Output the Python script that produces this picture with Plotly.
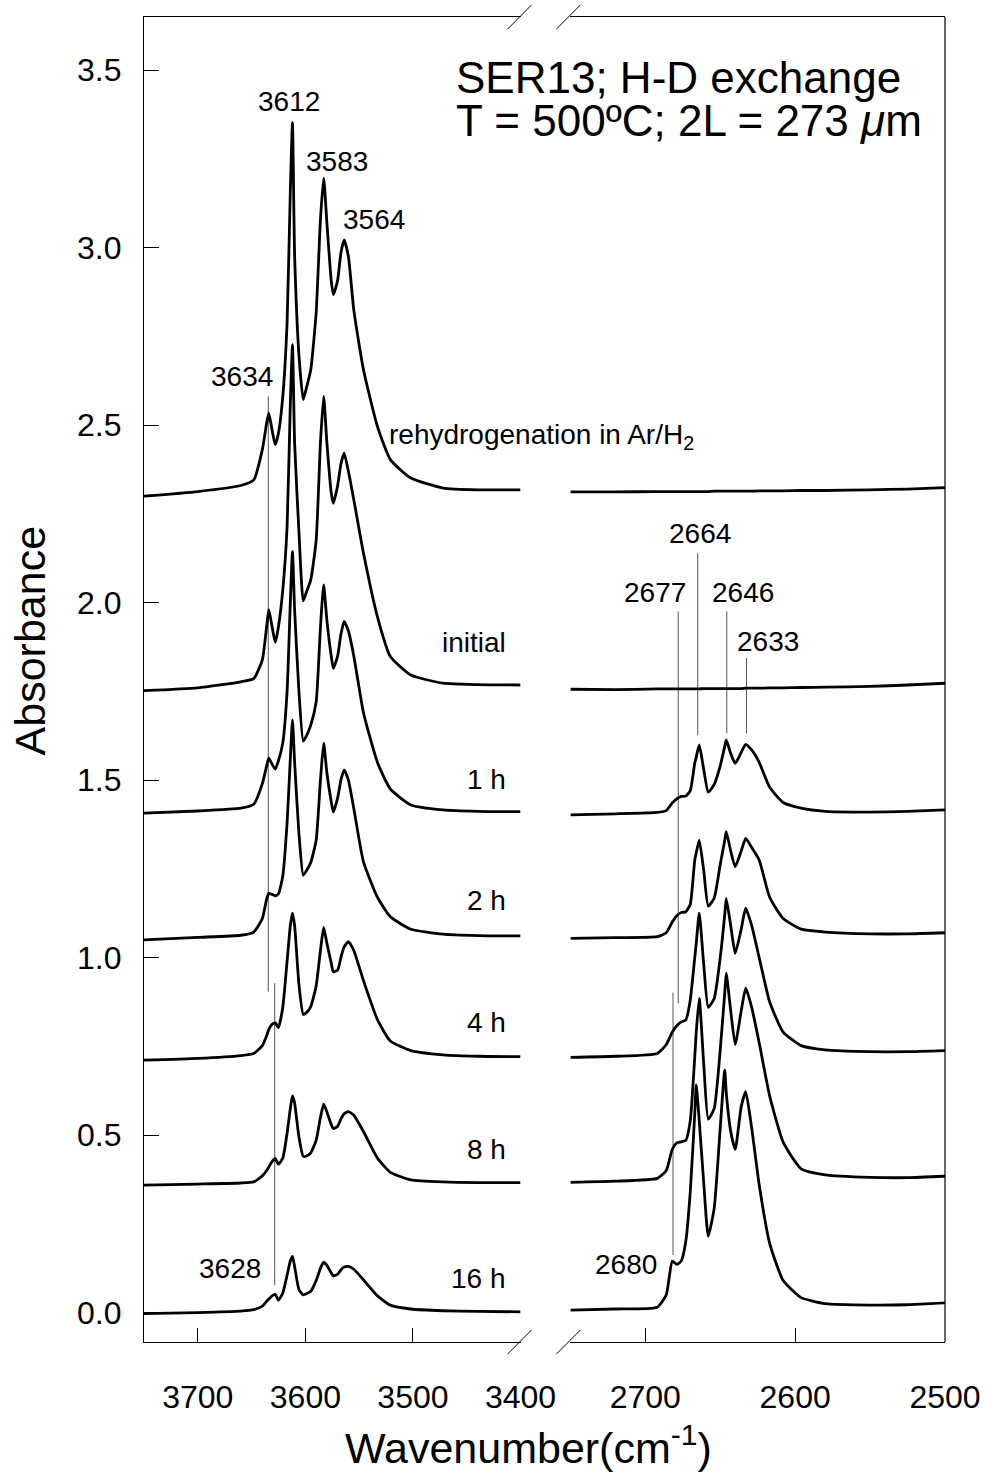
import plotly.graph_objects as go

# ---------------- data ----------------
# O-H stretching region (left panel), wavenumber grid, cm-1
wn_oh = [3750, 3700, 3660, 3648, 3640, 3636, 3634, 3631, 3628, 3625, 3621, 3617, 3614,
         3612, 3610, 3606, 3602, 3599, 3595, 3590, 3586, 3583, 3580, 3576, 3574, 3570,
         3567, 3564, 3560, 3555, 3546, 3533, 3521, 3502, 3472, 3440, 3400]

abs_rehyd_oh = [2.300, 2.313, 2.330, 2.346, 2.431, 2.506, 2.534, 2.487, 2.445, 2.478, 2.581, 2.790, 3.160,
                3.353, 2.980, 2.699, 2.572, 2.605, 2.656, 2.816, 3.079, 3.196, 3.070, 2.908, 2.868, 2.908,
                2.985, 3.022, 2.975, 2.825, 2.656, 2.496, 2.403, 2.351, 2.323, 2.318, 2.318]
abs_init_oh = [1.752, 1.760, 1.777, 1.786, 1.839, 1.933, 1.980, 1.933, 1.888, 1.933, 2.036, 2.215, 2.560,
               2.727, 2.450, 2.200, 2.005, 2.030, 2.064, 2.175, 2.450, 2.581, 2.450, 2.310, 2.280, 2.330,
               2.390, 2.421, 2.370, 2.290, 2.140, 1.960, 1.848, 1.796, 1.773, 1.769, 1.768]
abs_1h_oh = [1.407, 1.413, 1.421, 1.432, 1.490, 1.540, 1.562, 1.545, 1.531, 1.555, 1.605, 1.750, 2.000,
             2.144, 1.980, 1.750, 1.610, 1.625, 1.655, 1.720, 1.930, 2.050, 1.950, 1.850, 1.815, 1.850,
             1.910, 1.947, 1.920, 1.850, 1.690, 1.550, 1.475, 1.430, 1.416, 1.412, 1.411]
abs_2h_oh = [1.050, 1.057, 1.063, 1.072, 1.110, 1.165, 1.181, 1.178, 1.174, 1.180, 1.230, 1.380, 1.560,
             1.670, 1.550, 1.350, 1.232, 1.245, 1.268, 1.330, 1.500, 1.604, 1.520, 1.440, 1.410, 1.450,
             1.500, 1.529, 1.500, 1.420, 1.270, 1.170, 1.115, 1.080, 1.066, 1.062, 1.061]
abs_4h_oh = [0.711, 0.716, 0.724, 0.730, 0.752, 0.780, 0.798, 0.812, 0.816, 0.803, 0.860, 0.990, 1.090,
             1.125, 1.090, 0.925, 0.840, 0.845, 0.862, 0.920, 1.020, 1.085, 1.040, 0.985, 0.960, 0.965,
             1.000, 1.030, 1.045, 1.020, 0.935, 0.825, 0.765, 0.738, 0.726, 0.722, 0.721]
abs_8h_oh = [0.359, 0.362, 0.365, 0.368, 0.385, 0.400, 0.410, 0.425, 0.434, 0.418, 0.435, 0.505, 0.575,
             0.610, 0.590, 0.495, 0.440, 0.441, 0.450, 0.485, 0.550, 0.587, 0.565, 0.530, 0.518, 0.525,
             0.545, 0.560, 0.566, 0.556, 0.510, 0.435, 0.395, 0.374, 0.368, 0.366, 0.366]
abs_16h_oh = [-0.003, 0.000, 0.004, 0.008, 0.018, 0.032, 0.038, 0.047, 0.051, 0.035, 0.055, 0.105, 0.145,
              0.158, 0.130, 0.065, 0.050, 0.053, 0.060, 0.090, 0.125, 0.142, 0.133, 0.112, 0.103, 0.108,
              0.120, 0.128, 0.130, 0.122, 0.092, 0.047, 0.021, 0.010, 0.005, 0.003, 0.002]

# O-D stretching region (right panel)
wn_od = [2750, 2720, 2692, 2686, 2682, 2679, 2676, 2673, 2670, 2667, 2666, 2664, 2661, 2658, 2654,
         2650, 2647, 2646, 2643, 2640, 2636, 2633, 2629, 2624, 2617, 2608, 2596, 2580, 2550, 2525, 2500]

abs_rehyd_od = [2.312, 2.312, 2.313, 2.313, 2.313, 2.313, 2.313, 2.313, 2.313, 2.313, 2.313, 2.313, 2.313,
                2.313, 2.314, 2.314, 2.314, 2.314, 2.314, 2.314, 2.314, 2.314, 2.314, 2.315, 2.315, 2.315,
                2.316, 2.316, 2.318, 2.320, 2.324]
abs_init_od = [1.756, 1.755, 1.757, 1.757, 1.757, 1.757, 1.757, 1.757, 1.757, 1.757, 1.757, 1.757, 1.758,
               1.758, 1.758, 1.758, 1.758, 1.758, 1.758, 1.758, 1.758, 1.759, 1.759, 1.759, 1.760, 1.760,
               1.761, 1.762, 1.764, 1.768, 1.773]
abs_1h_od = [1.402, 1.405, 1.409, 1.414, 1.436, 1.447, 1.454, 1.455, 1.470, 1.548, 1.565, 1.599, 1.530,
             1.466, 1.488, 1.540, 1.595, 1.613, 1.575, 1.547, 1.578, 1.601, 1.585, 1.550, 1.480, 1.437,
             1.421, 1.412, 1.410, 1.412, 1.416]
abs_2h_od = [1.054, 1.056, 1.059, 1.070, 1.100, 1.118, 1.127, 1.129, 1.150, 1.275, 1.295, 1.331, 1.245,
             1.145, 1.168, 1.262, 1.330, 1.355, 1.300, 1.256, 1.300, 1.336, 1.310, 1.275, 1.170, 1.110,
             1.080, 1.072, 1.067, 1.067, 1.070]
abs_4h_od = [0.719, 0.722, 0.730, 0.755, 0.790, 0.808, 0.819, 0.824, 0.880, 1.000, 1.040, 1.125, 0.980,
             0.860, 0.885, 1.000, 1.120, 1.167, 1.090, 1.012, 1.080, 1.139, 1.090, 1.000, 0.875, 0.790,
             0.752, 0.740, 0.735, 0.735, 0.738]
abs_8h_od = [0.367, 0.370, 0.378, 0.400, 0.460, 0.478, 0.481, 0.485, 0.540, 0.720, 0.790, 0.885, 0.700,
             0.545, 0.575, 0.740, 0.900, 0.956, 0.850, 0.755, 0.850, 0.914, 0.860, 0.760, 0.610, 0.480,
             0.405, 0.388, 0.381, 0.380, 0.384]
abs_16h_od = [0.007, 0.010, 0.015, 0.050, 0.145, 0.136, 0.145, 0.200, 0.340, 0.560, 0.641, 0.540, 0.365,
              0.215, 0.295, 0.520, 0.683, 0.620, 0.510, 0.460, 0.580, 0.622, 0.520, 0.360, 0.195, 0.090,
              0.042, 0.025, 0.021, 0.022, 0.027]

oh_series = [abs_rehyd_oh, abs_init_oh, abs_1h_oh, abs_2h_oh, abs_4h_oh, abs_8h_oh, abs_16h_oh]
od_series = [abs_rehyd_od, abs_init_od, abs_1h_od, abs_2h_od, abs_4h_od, abs_8h_od, abs_16h_od]

# curve labels (time of exchange)
curve_labels = ["initial", "1 h", "2 h", "4 h", "8 h", "16 h"]
curve_label_y = [1.887, 1.501, 1.162, 0.816, 0.458, 0.097]
rehyd_label = "rehydrogenation in Ar/H<sub>2</sub>"

# peak labels
oh_peak_labels = ["3612", "3583", "3564", "3634", "3628"]
oh_peak_label_x = [3615.6, 3570.3, 3536.3, 3658.7, 3670.2]
oh_peak_label_y = [3.412, 3.243, 3.079, 2.637, 0.125]
od_peak_labels = ["2664", "2677", "2646", "2633", "2680"]
od_peak_label_x = [2663.8, 2693.5, 2634.8, 2618.4, 2713.0]
od_peak_label_y = [2.196, 2.028, 2.028, 1.890, 0.136]

# thin peak-marker lines (position, bottom, top)
oh_marker_x = [3634.5, 3628.5]
oh_marker_y0 = [0.904, 0.077]
oh_marker_y1 = [2.581, 0.928]
od_marker_x = [2678.0, 2681.5, 2665.0, 2645.6, 2632.5]
od_marker_y0 = [0.871, 0.162, 1.627, 1.632, 1.632]
od_marker_y1 = [1.975, 0.901, 2.139, 1.975, 1.844]

oh_ticks = [3700, 3600, 3500, 3400]
od_ticks = [2700, 2600, 2500]
y_ticks = [0.0, 0.5, 1.0, 1.5, 2.0, 2.5, 3.0, 3.5]

# ---------------- figure ----------------
FONT = "Liberation Sans, Arial, Helvetica, sans-serif"
fig = go.Figure()

for xm, a, b in zip(oh_marker_x, oh_marker_y0, oh_marker_y1):
    fig.add_trace(go.Scatter(x=[xm, xm], y=[a, b], xaxis="x", yaxis="y", mode="lines",
                             line=dict(color="#555555", width=1), hoverinfo="skip", showlegend=False))
for xm, a, b in zip(od_marker_x, od_marker_y0, od_marker_y1):
    fig.add_trace(go.Scatter(x=[xm, xm], y=[a, b], xaxis="x2", yaxis="y", mode="lines",
                             line=dict(color="#555555", width=1), hoverinfo="skip", showlegend=False))

for ys in oh_series:
    fig.add_trace(go.Scatter(x=wn_oh, y=ys, xaxis="x", yaxis="y", mode="lines",
                             line=dict(color="black", width=2.8, shape="spline", smoothing=0.5),
                             hoverinfo="skip", showlegend=False))
for ys in od_series:
    fig.add_trace(go.Scatter(x=wn_od, y=ys, xaxis="x2", yaxis="y", mode="lines",
                             line=dict(color="black", width=2.8, shape="spline", smoothing=0.5),
                             hoverinfo="skip", showlegend=False))

annotations = []
for t, yv in zip(curve_labels, curve_label_y):
    annotations.append(dict(x=3411.4, y=yv, xref="x", yref="y", text=t, showarrow=False,
                            xanchor="right", yanchor="middle", font=dict(size=28)))
annotations.append(dict(x=3524.3, y=2.467, xref="x", yref="y", text=rehyd_label, showarrow=False,
                        xanchor="left", yanchor="middle", font=dict(size=28)))
for t, xv, yv in zip(oh_peak_labels, oh_peak_label_x, oh_peak_label_y):
    annotations.append(dict(x=xv, y=yv, xref="x", yref="y", text=t, showarrow=False,
                            xanchor="center", yanchor="middle", font=dict(size=28)))
for t, xv, yv in zip(od_peak_labels, od_peak_label_x, od_peak_label_y):
    annotations.append(dict(x=xv, y=yv, xref="x2", yref="y", text=t, showarrow=False,
                            xanchor="center", yanchor="middle", font=dict(size=28)))

annotations.append(dict(x=0.3868, y=0.9545, xref="paper", yref="paper", text="SER13; H-D exchange",
                        showarrow=False, xanchor="left", yanchor="middle", font=dict(size=44)))
annotations.append(dict(x=0.3868, y=0.9220, xref="paper", yref="paper",
                        text="T = 500ºC; 2L = 273 <i>μ</i>m",
                        showarrow=False, xanchor="left", yanchor="middle", font=dict(size=44)))
annotations.append(dict(x=-0.1418, y=0.5298, xref="paper", yref="paper", text="Absorbance",
                        textangle=-90, showarrow=False, xanchor="center", yanchor="middle",
                        font=dict(size=43)))
annotations.append(dict(x=0.48, y=-0.0775, xref="paper", yref="paper",
                        text="Wavenumber(cm<sup>-1</sup>)", showarrow=False,
                        xanchor="center", yanchor="middle", font=dict(size=43)))

shapes = [
    dict(type="line", xref="paper", yref="paper", x0=1, x1=1, y0=0, y1=1,
         line=dict(color="black", width=1.2)),
    # axis-break marks (bottom)
    dict(type="line", xref="paper", yref="paper", x0=0.454, y0=-0.0091, x1=0.4838, y1=0.0091,
         line=dict(color="black", width=1)),
    dict(type="line", xref="paper", yref="paper", x0=0.5149, y0=-0.0091, x1=0.5448, y1=0.0091,
         line=dict(color="black", width=1)),
    # axis-break marks (top)
    dict(type="line", xref="paper", yref="paper", x0=0.454, y0=0.9909, x1=0.4838, y1=1.0091,
         line=dict(color="black", width=1)),
    dict(type="line", xref="paper", yref="paper", x0=0.5149, y0=0.9909, x1=0.5448, y1=1.0091,
         line=dict(color="black", width=1)),
]

xcommon = dict(ticks="inside", ticklen=14, tickwidth=1, tickcolor="black", showline=True,
               linecolor="black", linewidth=1.2, mirror=True, showgrid=False, zeroline=False,
               tickfont=dict(size=32), ticklabelstandoff=26, anchor="y")

fig.update_layout(
    width=993, height=1478,
    margin=dict(l=144, r=45, t=17, b=136),
    paper_bgcolor="white", plot_bgcolor="white", showlegend=False,
    font=dict(family=FONT, color="black"),
    xaxis=dict(domain=[0, 0.4701], range=[3750, 3400], tickvals=oh_ticks, **xcommon),
    xaxis2=dict(domain=[0.5323, 1], range=[2750, 2500], tickvals=od_ticks, **xcommon),
    yaxis=dict(range=[-0.083, 3.650], tickvals=y_ticks, tickformat=".1f", ticks="inside",
               ticklen=15, tickwidth=1, tickcolor="black", showline=True, linecolor="black",
               linewidth=1.2, showgrid=False, zeroline=False, tickfont=dict(size=32),
               ticklabelstandoff=15, anchor="x"),
    annotations=annotations,
    shapes=shapes,
)

fig.write_html("out.html")
